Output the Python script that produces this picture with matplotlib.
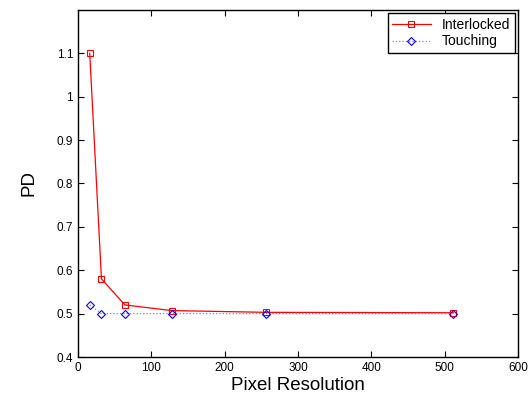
import matplotlib
matplotlib.use("Agg")
import matplotlib.pyplot as plt

plt.rcParams['font.family'] = ['Liberation Sans', 'DejaVu Sans']

res = [16, 32, 64, 128, 256, 512]
interlocked = [1.1, 0.58, 0.52, 0.507, 0.503, 0.502]
touching = [0.52, 0.5, 0.5, 0.5, 0.5, 0.5]

fig = plt.figure(figsize=(5.3, 4.0), dpi=100)
ax = fig.add_axes([78/530, 43/400, 440/530, 347/400])

ax.plot(res, interlocked, color='red', lw=0.9, marker='s', ms=5,
        mfc='none', mec='red', mew=0.8, label='Interlocked')
ax.plot(res, touching, color='#8080ff', lw=0.9, ls=':', marker='D', ms=4.5,
        mfc='none', mec='blue', mew=0.8, label='Touching')

ax.set_xlim(0, 600)
ax.set_ylim(0.4, 1.2)
ax.set_xticks(range(0, 601, 100))
ax.set_yticks([0.4, 0.5, 0.6, 0.7, 0.8, 0.9, 1.0, 1.1])
ax.set_yticklabels(['0.4', '0.5', '0.6', '0.7', '0.8', '0.9', '1', '1.1'])
ax.tick_params(direction='in', top=True, right=True, labelsize=8.5, length=4)
for s in ax.spines.values():
    s.set_linewidth(1.0)

ax.set_xlabel('Pixel Resolution', fontsize=13.5, labelpad=2)
ax.set_ylabel('PD', fontsize=13.5, labelpad=14)

leg = ax.legend(loc='upper right', fontsize=10, fancybox=False, framealpha=1,
                edgecolor='black', borderaxespad=0.25, handlelength=2.8,
                borderpad=0.3, labelspacing=0.2)
leg.get_frame().set_linewidth(1.0)

fig.savefig('out.png', dpi=100)
